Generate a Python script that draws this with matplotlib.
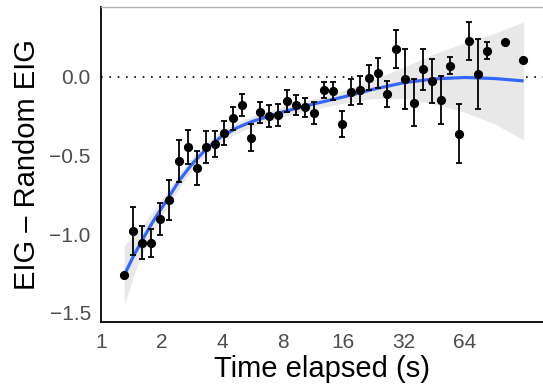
import numpy as np
import matplotlib
matplotlib.use("Agg")
import matplotlib.pyplot as plt

# ---- data ----
time_s = [1.306, 1.448, 1.607, 1.781, 1.976, 2.191, 2.430, 2.696, 2.990, 3.317,
          3.678, 4.078, 4.525, 5.018, 5.567, 6.173, 6.845, 7.595, 8.421, 9.344,
          10.36, 11.49, 12.75, 14.13, 15.68, 17.39, 19.28, 21.39, 23.72, 26.32,
          29.18, 32.36, 35.90, 39.81, 44.17, 48.98, 54.31, 60.25, 66.81, 74.11,
          82.20, 101.1, 124.4]
eig_diff = [-1.261, -0.977, -1.053, -1.057, -0.903, -0.782, -0.534, -0.447, -0.577, -0.447,
            -0.426, -0.354, -0.263, -0.178, -0.386, -0.224, -0.248, -0.242, -0.151, -0.178,
            -0.193, -0.231, -0.083, -0.089, -0.299, -0.095, -0.083, -0.004, 0.024, -0.108,
            0.176, -0.015, -0.163, 0.049, -0.024, -0.146, 0.072, -0.360, 0.229, 0.019,
            0.167, 0.221, 0.110]
err_half = [np.nan, 0.153, 0.106, 0.088, 0.103, 0.127, 0.133, 0.109, 0.109, 0.102,
            0.085, 0.077, 0.074, 0.070, 0.087, 0.067, 0.068, 0.071, 0.069, 0.061,
            0.061, 0.071, 0.053, 0.056, 0.083, 0.082, 0.089, 0.080, 0.096, 0.082,
            0.120, 0.190, 0.149, 0.132, 0.140, 0.155, 0.053, 0.189, 0.118, 0.222,
            0.054, np.nan, np.nan]

smooth_t = [1.306, 1.464, 1.625, 1.803, 2.0, 2.219, 2.462, 2.828, 3.364, 4.0,
            4.757, 5.657, 8.0, 11.31, 16.0, 22.63, 32.0, 45.25, 64.0, 90.51, 125.4]
smooth_v = [-1.26, -1.13, -1.025, -0.925, -0.835, -0.745, -0.655, -0.555, -0.452, -0.375,
            -0.322, -0.282, -0.222, -0.172, -0.127, -0.077, -0.036, -0.012, -0.003, -0.010, -0.025]
smooth_se = [0.19, 0.125, 0.085, 0.065, 0.055, 0.05, 0.045, 0.04, 0.037, 0.035,
             0.034, 0.033, 0.032, 0.033, 0.04, 0.06, 0.10, 0.16, 0.22, 0.29, 0.375]

x_ticks = [1, 2, 4, 8, 16, 32, 64]
y_ticks = [-1.5, -1.0, -0.5, 0.0]
y_ticklabels = ["\u22121.5", "\u22121.0", "\u22120.5", "0.0"]

# ---- figure ----
plt.rcParams['font.family'] = ['Liberation Sans', 'DejaVu Sans']
W, H = 543, 385
fig = plt.figure(figsize=(W / 100, H / 100), dpi=100)
left, right, top, bottom = 100.5, 543, 7, 322
ax = fig.add_axes([left / W, (H - bottom) / H, (right - left) / W, (bottom - top) / H])

t = np.array(time_s)
v = np.array(eig_diff)
e = np.array(err_half)
st = np.array(smooth_t)
sv = np.array(smooth_v)
se = np.array(smooth_se)

ax.set_xscale('log', base=2)
ax.axhline(0, color='black', linestyle=(0, (1, 4)), linewidth=1.2, zorder=1)
ax.fill_between(st, sv - se, sv + se, color='#e8e8e8', linewidth=0, zorder=2)
ax.plot(st, sv, color='#3366FF', linewidth=2.3, solid_capstyle='butt', zorder=3)
m = ~np.isnan(e)
ax.errorbar(t[m], v[m], yerr=e[m], fmt='none', ecolor='black', elinewidth=1.3,
            capsize=2.3, capthick=1.3, zorder=4)
ax.plot(t, v, 'o', color='black', markersize=5.6, zorder=5)

ax.set_xlim(2 ** -0.005, 2 ** 7.29)
ax.set_ylim(-1.5576, 0.445)
ax.set_xticks(x_ticks)
ax.set_xticklabels([str(x) for x in x_ticks])
ax.minorticks_off()
ax.set_yticks(y_ticks)
ax.set_yticklabels(y_ticklabels)
ax.tick_params(axis='both', length=0, labelsize=15, colors='#4d4d4d', labelcolor='#4d4d4d')
ax.tick_params(axis='y', pad=7)
ax.tick_params(axis='x', pad=8)
for lab in ax.get_xticklabels() + ax.get_yticklabels():
    lab.set_color('#4d4d4d')

ax.spines['left'].set_linewidth(1.3)
ax.spines['bottom'].set_linewidth(1.3)
ax.spines['right'].set_visible(False)
ax.spines['top'].set_color('#b5b5b5')
ax.spines['top'].set_linewidth(1.0)

ax.set_xlabel('Time elapsed (s)', fontsize=21, labelpad=2)
ax.set_ylabel('EIG \u2013 Random EIG', fontsize=21, labelpad=6)

fig.savefig('out.png', dpi=100)
